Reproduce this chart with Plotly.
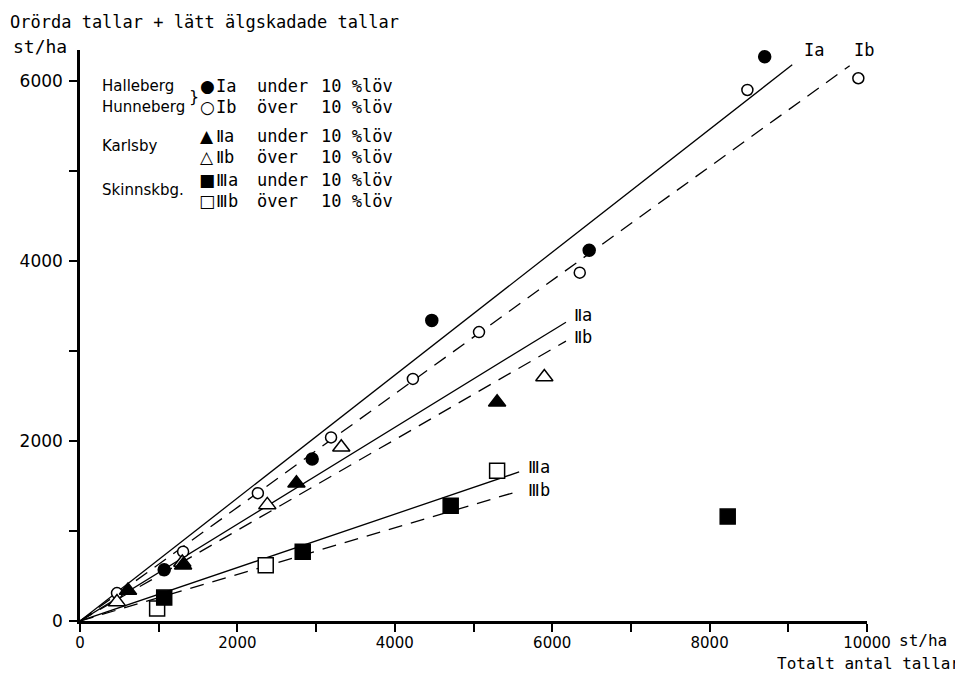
import plotly.graph_objects as go

# ---- data ----
Ia_x = [1070, 2950, 4470, 6470, 8700]
Ia_y = [570, 1800, 3340, 4120, 6270]
Ib_x = [470, 1310, 2260, 3190, 4230, 5070, 6350, 8480, 9890]
Ib_y = [310, 770, 1420, 2040, 2690, 3210, 3870, 5900, 6030]
IIa_x = [610, 1310, 2750, 5300]
IIa_y = [340, 620, 1530, 2430]
IIb_x = [470, 1300, 2380, 3320, 5900]
IIb_y = [210, 650, 1290, 1930, 2710]
IIIa_x = [1070, 2830, 4710, 8230]
IIIa_y = [260, 770, 1280, 1160]
IIIb_x = [980, 2360, 5300]
IIIb_y = [140, 620, 1670]

# regression lines through origin: end points
line_names = ["Ia", "Ib", "Ⅱa", "Ⅱb", "Ⅲa", "Ⅲb"]
line_end_x = [9050, 9780, 6175, 6175, 5580, 5580]
line_end_y = [6180, 6170, 3320, 3110, 1656, 1444]
line_dash = ["solid", "dash", "solid", "dash", "solid", "dash"]
label_shift = [(10, 15), (2, 16), (6, 7), (6, 4), (7, 5), (7, 1)]

x_tickvals = list(range(0, 10001, 1000))
x_ticktext = ["0", "", "2000", "", "4000", "", "6000", "", "8000", "", "10000"]
y_tickvals = list(range(0, 6001, 1000))
y_ticktext = ["0", "", "2000", "", "4000", "", "6000"]

FONT = "DejaVu Sans"
MONO = "DejaVu Sans Mono"
OFF = 8                      # page body margin of the html page
W, H = 963 - OFF, 674 - OFF
L, R, T, B = 72, 96, 42, 53
PW, PH = W - L - R, H - T - B

def px(x):                    # page pixel -> paper
    return (x - OFF - L) / PW

def py(y):
    return (OFF + T + PH - y) / PH

fig = go.Figure()

for i in range(len(line_names)):
    fig.add_trace(go.Scatter(
        x=[0, line_end_x[i]], y=[0, line_end_y[i]], mode="lines",
        line=dict(color="black", width=1.3,
                  dash="solid" if line_dash[i] == "solid" else "14px,9px"),
        showlegend=False, hoverinfo="skip"))
    fig.add_annotation(x=line_end_x[i], y=line_end_y[i], text=line_names[i],
                       xanchor="left", yanchor="middle", showarrow=False,
                       xshift=label_shift[i][0], yshift=label_shift[i][1],
                       font=dict(family=MONO, size=17, color="black"))

def pts(x, y, symbol, size, filled):
    fig.add_trace(go.Scatter(
        x=x, y=y, mode="markers", showlegend=False, cliponaxis=False,
        marker=dict(symbol=symbol, size=size,
                    color="black" if filled else "white",
                    line=dict(color="black", width=1.5))))

pts(Ib_x, Ib_y, "circle", 11, False)
pts(IIb_x, IIb_y, "triangle-up", 15, False)
pts(IIIb_x, IIIb_y, "square", 15, False)
pts(Ia_x, Ia_y, "circle", 12, True)
pts(IIa_x, IIa_y, "triangle-up", 15, True)
pts(IIIa_x, IIIa_y, "square", 15, True)

# ---- legend drawn as text ----
def ann(x, y, text, xanchor="left", size=17, family=MONO):
    fig.add_annotation(xref="paper", yref="paper", x=px(x), y=py(y), text=text,
                       xanchor=xanchor, yanchor="middle", showarrow=False,
                       borderpad=0,
                       font=dict(family=family, size=size, color="black"))

rows_y = [86, 107, 136, 157, 180, 201]
symbols = ["●", "○", "▲", "△", "■", "□"]
romans = ["Ia", "Ib", "Ⅱa", "Ⅱb", "Ⅲa", "Ⅲb"]
words = ["under", "över", "under", "över", "under", "över"]
for i, yy in enumerate(rows_y):
    ann(207, yy, symbols[i], xanchor="center", size=17, family=FONT)
    ann(215, yy, romans[i])
    ann(256, yy, words[i])
    ann(320, yy, "10 %löv")

ann(101, 86, "Halleberg", size=15, family=FONT)
ann(101, 107, "Hunneberg", size=15, family=FONT)
ann(188, 96, "}", size=16, family=FONT)
ann(101, 146, "Karlsby", size=15, family=FONT)
ann(101, 190, "Skinnskbg.", size=15, family=FONT)

ann(9, 22, "Orörda tallar + lätt älgskadade tallar", size=17)
ann(12, 47, "st/ha", size=18)
ann(898, 640, "st/ha", size=16)
ann(961, 663, "Totalt antal tallar", xanchor="right", size=16)

fig.update_layout(
    width=W, height=H, margin=dict(l=L, r=R, t=T, b=B),
    paper_bgcolor="white", plot_bgcolor="white",
    font=dict(family=FONT, size=17, color="black"),
    xaxis=dict(range=[0, 10000], tickvals=x_tickvals, ticktext=x_ticktext,
               ticks="outside", ticklen=8, tickwidth=2, tickcolor="black",
               tickfont=dict(size=15), ticklabelstandoff=-2,
               showline=True, linewidth=2.5, linecolor="black",
               showgrid=False, zeroline=False, fixedrange=True),
    yaxis=dict(range=[0, 6344], tickvals=y_tickvals, ticktext=y_ticktext,
               ticks="outside", ticklen=8, tickwidth=2, tickcolor="black",
               ticklabelstandoff=3,
               showline=True, linewidth=2.5, linecolor="black",
               showgrid=False, zeroline=False, fixedrange=True),
)

fig.write_html("out.html")
